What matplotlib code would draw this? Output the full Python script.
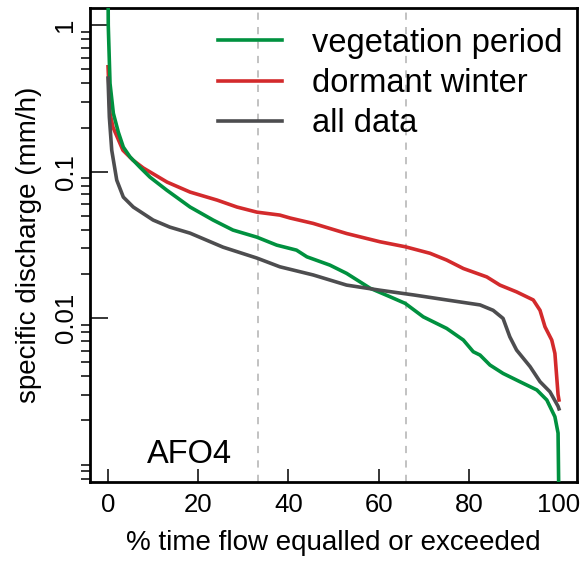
import matplotlib
matplotlib.use("Agg")
import matplotlib.pyplot as plt
from matplotlib.ticker import LogLocator, NullFormatter

plt.rcParams['font.family'] = ['Liberation Sans', 'DejaVu Sans']

# flow duration curves (% exceedance, mm/h)
pct_veg = [0.0, 0.05, 0.44, 1.18, 2.28, 3.39, 4.88, 7.1, 9.3, 13.0, 18.2, 23.3, 27.7,
           33.0, 37.4, 41.8, 44.1, 49.2, 52.9, 58.1, 62.5, 65.9, 69.9, 75.1, 78.8,
           81.0, 82.5, 84.7, 87.6, 91.4, 95.1, 97.3, 99.1, 99.8, 100.0]
q_veg = [2.0, 1.0, 0.40, 0.25, 0.186, 0.147, 0.126, 0.107, 0.0917, 0.0748, 0.0573,
         0.0467, 0.0399, 0.0357, 0.0315, 0.0291, 0.0262, 0.0230, 0.0202, 0.0160,
         0.0140, 0.0126, 0.0102, 0.0085, 0.00708, 0.00589, 0.00559, 0.00478,
         0.00419, 0.00367, 0.00323, 0.00276, 0.00212, 0.00164, 0.0005]

pct_win = [0.0, 0.44, 1.1, 3.3, 5.5, 7.8, 13.1, 18.2, 24.2, 28.6, 33.0, 38.1, 40.4,
           45.5, 52.9, 60.3, 65.9, 71.4, 75.1, 78.8, 84.0, 86.9, 90.6, 94.3, 95.8,
           96.9, 98.4, 99.1, 99.8, 100.0]
q_win = [0.52, 0.25, 0.201, 0.140, 0.120, 0.106, 0.0848, 0.0725, 0.0639, 0.0573,
         0.0529, 0.0505, 0.0482, 0.0443, 0.0378, 0.0332, 0.0307, 0.0277, 0.0249,
         0.0218, 0.0191, 0.0168, 0.0151, 0.0133, 0.0113, 0.00872, 0.00708,
         0.00574, 0.00300, 0.00276]

pct_all = [0.0, 0.29, 0.82, 1.93, 3.39, 5.6, 10.0, 13.7, 18.2, 25.5, 33.0, 38.1,
           45.5, 52.9, 60.3, 67.7, 75.1, 82.5, 85.4, 87.6, 89.1, 90.6, 93.6, 95.8,
           98.0, 99.8, 100.0]
q_all = [0.435, 0.236, 0.140, 0.0875, 0.0670, 0.0573, 0.0467, 0.0418, 0.0380,
         0.0305, 0.0257, 0.0224, 0.0197, 0.0168, 0.0155, 0.0144, 0.0133, 0.0123,
         0.0113, 0.00995, 0.00745, 0.00605, 0.00466, 0.00368, 0.00314, 0.00250,
         0.00240]

tercile_lines = [33.3, 66.0]
x_ticks = [0, 20, 40, 60, 80, 100]
y_ticks = [0.01, 0.1, 1]
y_tick_labels = ['0.01', '0.1', '1']

green = '#00913f'
red = '#d32a2c'
grey = '#4d4d4f'

fig = plt.figure(figsize=(5.85, 5.66), dpi=100)
ax = fig.add_axes([90 / 585, 1 - 482 / 566, 487 / 585, 474 / 566])

for xv in tercile_lines:
    ax.axvline(xv, color='#bdbdbd', lw=1.3, ls=(0, (4, 4)), zorder=1)

ax.plot(pct_win, q_win, color=red, lw=2.6, label='dormant winter', zorder=2)
ax.plot(pct_veg, q_veg, color=green, lw=2.6, label='vegetation period', zorder=3)
ax.plot(pct_all, q_all, color=grey, lw=2.6, label='all data', zorder=4)

ax.set_yscale('log')
ax.set_xlim(-4, 104)
ax.set_ylim(0.00076, 1.31)

ax.set_xticks(x_ticks)
ax.set_yticks(y_ticks, y_tick_labels, rotation=90, va='center')
ax.yaxis.set_minor_locator(LogLocator(base=10, subs=range(1, 10)))
ax.yaxis.set_minor_formatter(NullFormatter())

ax.tick_params(axis='both', direction='in', labelsize=18.5, width=1.1, color='black')
ax.tick_params(axis='x', which='major', length=9.5, pad=8)
ax.tick_params(axis='y', which='major', length=13, pad=9)
ax.tick_params(axis='y', which='minor', length=6.5, width=1.1)

for sp in ax.spines.values():
    sp.set_linewidth(2.0)

ax.set_xlabel('% time flow equalled or exceeded', fontsize=20, labelpad=9)
ax.set_ylabel('specific discharge (mm/h)', fontsize=20, labelpad=8)

ax.text(0.205, 0.04, 'AFO4', transform=ax.transAxes, fontsize=23.5,
        ha='center', va='baseline')

h, l = ax.get_legend_handles_labels()
order = [1, 0, 2]
ax.legend([h[i] for i in order], [l[i] for i in order], loc='upper left',
          bbox_to_anchor=(0.263, 0.958), frameon=False, fontsize=23.5,
          borderpad=0, borderaxespad=0, handlelength=1.96, handletextpad=0.92,
          labelspacing=0.28)

fig.savefig('out.png', dpi=100)
